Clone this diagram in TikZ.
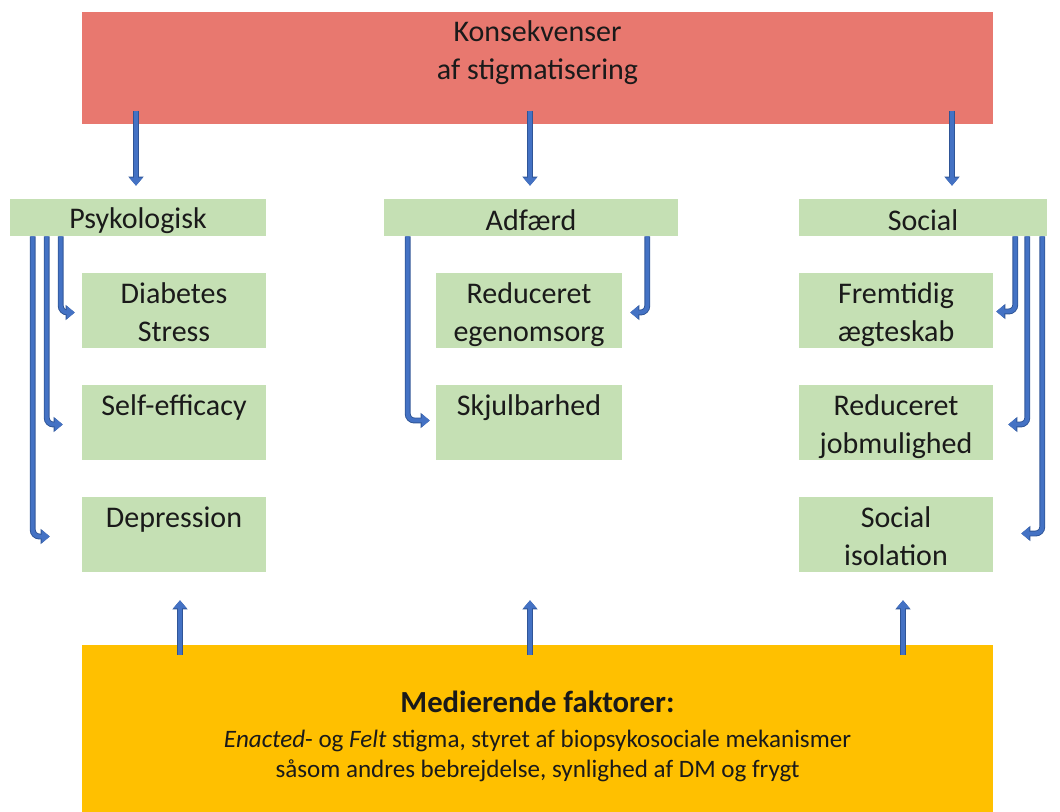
\documentclass[tikz,border=0pt]{standalone}
\usepackage{fontspec}
\setmainfont{Carlito}
\usetikzlibrary{arrows.meta,calc}
\definecolor{redbox}{HTML}{E8786F}
\definecolor{greenbox}{HTML}{C5E0B4}
\definecolor{orangebox}{HTML}{FFC000}
\definecolor{arrowblue}{HTML}{4472C4}
\definecolor{arrowdark}{HTML}{2F5597}
\definecolor{txt}{HTML}{1A1A1A}
\newcommand\topstrut{\rule{0pt}{22.45pt}}
\newcommand\botstrut{\rule[-5.05pt]{0pt}{5.05pt}}
\newcommand\hdrstrut{\rule{0pt}{20pt}}
\begin{document}
\begin{tikzpicture}[x=0.75pt,y=-0.75pt,
  box/.style={inner sep=0pt, align=center, text=txt, font=\fontsize{22.5}{28.5}\selectfont},
  hdr/.style={box, fill=greenbox, minimum height=27.75pt},
  child/.style={box, fill=greenbox, minimum height=56.25pt},
  arr/.style={line width=3pt, draw=arrowblue, rounded corners=5pt,
    -{Triangle[length=6pt,width=9.5pt]},
    preaction={draw=arrowdark, line width=4.4pt, -{Triangle[length=6.8pt,width=11pt]}}}
]
\useasboundingbox (0,0) rectangle (1060,812);
% top
\node[box, fill=redbox, minimum width=683.25pt, minimum height=84pt] (top) at (537.5,68)
  {\topstrut Konsekvenser\\af stigmatisering\\\botstrut};
% headers
\node[hdr, minimum width=192pt] (psy) at (138,217.5) {\hdrstrut Psykologisk};
\node[hdr, minimum width=220.5pt] (adf) at (531,217.5) {\hdrstrut Adfærd};
\node[hdr, minimum width=186pt] (soc) at (923,217.5) {\hdrstrut Social};
% psykologisk children
\node[child, minimum width=138pt] (dia) at (174,310.5) {\topstrut Diabetes\\Stress\botstrut};
\node[child, minimum width=138pt] (sel) at (174,422.5) {\topstrut Self-efficacy\\\botstrut};
\node[child, minimum width=138pt] (dep) at (174,534.5) {\topstrut Depression\\\botstrut};
% adfaerd children
\node[child, minimum width=139.5pt] (ege) at (529,310.5) {\topstrut Reduceret\\egenomsorg\botstrut};
\node[child, minimum width=139.5pt] (skj) at (529,422.5) {\topstrut Skjulbarhed\\\botstrut};
% social children
\node[child, minimum width=145.5pt] (fre) at (896,310.5) {\topstrut Fremtidig\\ægteskab\botstrut};
\node[child, minimum width=145.5pt] (job) at (896,422.5) {\topstrut Reduceret\\jobmulighed\botstrut};
\node[child, minimum width=145.5pt] (iso) at (896,534.5) {\topstrut Social\\isolation\botstrut};
% bottom
\node[fill=orangebox, inner sep=0pt, minimum width=683.25pt, minimum height=125.25pt] (med) at (537.5,728.5) {};
\node[align=center, text=txt, inner sep=0pt, font=\fontsize{18.8}{22.5}\selectfont] (medtxt) at (537.5,736.5)
  {{\fontsize{23}{28}\selectfont\bfseries Medierende faktorer:}\\[3.25pt]
   \textit{Enacted}- og \textit{Felt} stigma, styret af biopsykosociale mekanismer\\
   såsom andres bebrejdelse, synlighed af DM og frygt};
% arrows from top
\draw[arr] ($(top.south)+(-401.5,-14)$) -- ($(psy.north)+(-2,-13)$);
\draw[arr] ($(top.south)+(-7.5,-14)$) -- ($(adf.north)+(-1,-13)$);
\draw[arr] ($(top.south)+(414.5,-14)$) -- ($(soc.north)+(29,-13)$);
% psykologisk
\draw[arr] ($(psy.south west)+(51,0)$) |- ($(dia.west)+(-7,2)$);
\draw[arr] ($(psy.south west)+(37,0)$) |- ($(sel.west)+(-19,2)$);
\draw[arr] ($(psy.south west)+(23,0)$) |- ($(dep.west)+(-32,2)$);
% adfaerd
\draw[arr] ($(adf.south west)+(24,0)$) |- ($(skj.west)+(-6,-2)$);
\draw[arr] ($(adf.south east)+(-31,0)$) |- ($(ege.east)+(8,2)$);
% social
\draw[arr] ($(soc.south east)+(-32,0)$) |- ($(fre.east)+(3,1)$);
\draw[arr] ($(soc.south east)+(-20,0)$) |- ($(job.east)+(15,2)$);
\draw[arr] ($(soc.south east)+(-5,0)$) |- ($(iso.east)+(28,-1)$);
% arrows from bottom
\draw[arr] ($(med.north)+(-357.5,10)$) -- ($(dep.south)+(6,28)$);
\draw[arr] ($(med.north)+(-7.5,10)$) -- ($(skj.south)+(1,140)$);
\draw[arr] ($(med.north)+(365.5,10)$) -- ($(iso.south)+(7,28)$);
\end{tikzpicture}
\end{document}
